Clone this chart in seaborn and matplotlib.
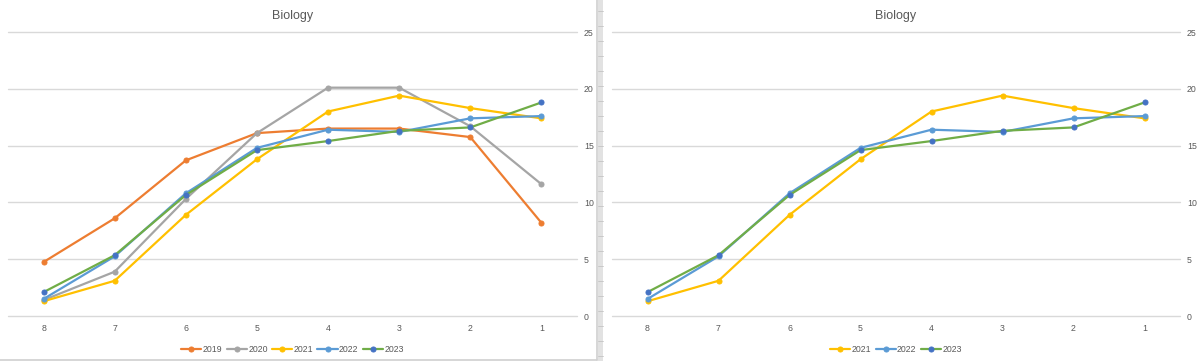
import numpy as np
import pandas as pd
import seaborn as sns
import matplotlib.pyplot as plt
from matplotlib.patches import Rectangle
from matplotlib.lines import Line2D

# grade categories, shown from 8 down to 1
grades = ['8', '7', '6', '5', '4', '3', '2', '1']

y2019 = [4.75, 8.6, 13.7, 16.1, 16.5, 16.5, 15.75, 8.2]
y2020 = [1.4, 3.9, 10.3, 16.1, 20.1, 20.1, 16.7, 11.6]
y2021 = [1.3, 3.1, 8.9, 13.8, 18.0, 19.4, 18.3, 17.4]
y2022 = [1.5, 5.25, 10.8, 14.8, 16.4, 16.2, 17.4, 17.6]
y2023 = [2.1, 5.35, 10.65, 14.6, 15.4, 16.3, 16.6, 18.8]

years = ['2019', '2020', '2021', '2022', '2023']
series = [y2019, y2020, y2021, y2022, y2023]

# line colour, marker colour
COLORS = {
    '2019': ('#ED7D31', '#ED7D31'),
    '2020': ('#A5A5A5', '#A5A5A5'),
    '2021': ('#FFC000', '#FFC000'),
    '2022': ('#5B9BD5', '#5B9BD5'),
    '2023': ('#70AD47', '#4472C4'),
}

rows = []
for yr, vals in zip(years, series):
    for g, v in zip(grades, vals):
        rows.append({'grade': g, 'year': yr, 'value': v})
df = pd.DataFrame(rows)

sns.set_style('white')
plt.rcParams['font.family'] = ['Liberation Sans', 'DejaVu Sans']

W, H = 1203, 361
fig = plt.figure(figsize=(W / 100, H / 100), dpi=100)

TEXT = '#595959'
GRID = '#D9D9D9'


def draw(ax, show_years):
    for yr in show_years:
        lc, mc = COLORS[yr]
        sns.lineplot(data=df[df.year == yr], x='grade', y='value', ax=ax,
                     color=lc, linewidth=1.6, marker='o', markersize=3.6,
                     markerfacecolor=mc, markeredgecolor=mc, sort=False,
                     label=yr, zorder=3)
    ax.set_xlim(-0.5, len(grades) - 0.5)
    ax.set_ylim(0, 25)
    ax.set_yticks([0, 5, 10, 15, 20, 25])
    ax.yaxis.tick_right()
    ax.grid(visible=False)
    for v in [0, 5, 10, 15, 20, 25]:
        ax.axhline(v, color=GRID, linewidth=1.0, clip_on=False, zorder=1)
    for s in ax.spines.values():
        s.set_visible(False)
    ax.tick_params(axis='both', length=0, labelsize=6.3, colors=TEXT)
    ax.tick_params(axis='x', pad=6)
    ax.tick_params(axis='y', pad=5)
    ax.set_xlabel('')
    ax.set_ylabel('')
    ax.set_title('Biology', fontsize=9, color=TEXT, pad=9)
    ax.legend(loc='upper center', bbox_to_anchor=(0.5, -0.075), ncol=5,
              frameon=False, fontsize=6.3, handlelength=2.3,
              handletextpad=0.15, columnspacing=0.5, labelcolor=TEXT)


bottom = (H - 316) / H
height = 284 / H
ax1 = fig.add_axes([8 / W, bottom, 569 / W, height])
ax2 = fig.add_axes([612 / W, bottom, 568 / W, height])

draw(ax1, years)
draw(ax2, ['2021', '2022', '2023'])

# spreadsheet frame between the two charts
fig.add_artist(Line2D([597 / W, 597 / W], [1 / H, 1], color='#D0D0D0', lw=1.2))
fig.add_artist(Line2D([0, 597 / W], [1.5 / H, 1.5 / H], color='#D0D0D0', lw=1.2))
fig.add_artist(Rectangle((598 / W, 0), 5 / W, 1, color='#E2E2E2', lw=0))
for yy in np.arange(5, H, 15):
    fig.add_artist(Line2D([598 / W, 603 / W], [yy / H, yy / H], color='#C4C4C4', lw=0.6))

fig.savefig('out.png', dpi=100)
